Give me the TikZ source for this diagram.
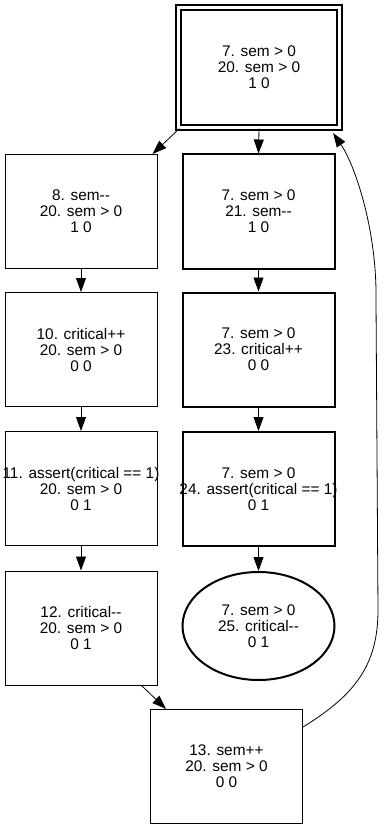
\documentclass[tikz,border=0pt]{standalone}
\usepackage{fontspec}
\setmainfont{Liberation Sans}[Ligatures=TeXOff]
\usetikzlibrary{arrows.meta, shapes.geometric}

\tikzset{
    state/.style={draw, line width=1pt, minimum width=152pt, minimum height=114pt,
        inner sep=0pt, align=center, font=\fontsize{15.4}{16}\selectfont},
    loopstate/.style={state, line width=2pt},
    initstate/.style={state, line width=2.2pt, double, double distance=2.8pt,
        minimum width=161pt, minimum height=120pt},
    endstate/.style={loopstate, ellipse, minimum height=108pt},
    trans/.style={line width=0.8pt, -{Triangle[length=14pt,width=10pt]}}
}

\begin{document}
\begin{tikzpicture}[x=1pt, y=-1pt]
    \useasboundingbox (0,0) rectangle (384,829);

    % Initial state
    \node[initstate] (s0) at (259,67.5) {7. sem > 0\\20. sem > 0\\1 0};

    % Left column: first process runs
    \node[state] (l1) at (81,211.5) {8. sem--\\20. sem > 0\\1 0};
    \node[state] (l2) at (81,349.5) {10. critical++\\20. sem > 0\\0 0};
    \node[state] (l3) at (81,488.5) {\makebox[0pt]{11. assert(critical == 1)}\\20. sem > 0\\0 1};
    \node[state] (l4) at (81,628) {12. critical--\\20. sem > 0\\0 1};
    \node[state] (l5) at (226.5,766.5) {13. sem++\\20. sem > 0\\0 0};

    % Right column: second process runs
    \node[loopstate] (r1) at (258.5,211.5) {7. sem > 0\\21. sem--\\1 0};
    \node[loopstate] (r2) at (258.5,349.5) {7. sem > 0\\23. critical++\\0 0};
    \node[loopstate] (r3) at (258.5,489) {7. sem > 0\\\makebox[0pt]{24. assert(critical == 1)}\\0 1};
    \node[endstate] (r4) at (258.5,626) {7. sem > 0\\25. critical--\\0 1};

    % Transitions
    \draw[trans] ([xshift=2pt]s0.south west) -- ([xshift=-5pt]l1.north east);
    \draw[trans] (s0.south) -- (r1.north);
    \draw[trans] (l1) -- (l2);
    \draw[trans] (l2) -- (l3);
    \draw[trans] (l3) -- (l4);
    \draw[trans] ([xshift=-16pt]l4.south east) -- ([xshift=16pt]l5.north west);
    \draw[trans] (r1) -- (r2);
    \draw[trans] (r2) -- (r3);
    \draw[trans] (r3) -- (r4);

    % Back edge to the initial state
    \draw[trans] ([yshift=-18pt]l5.north east)
        .. controls (355,695) and (378,665) .. (378,610)
        -- (376,300)
        .. controls (377,230) and (355,165) .. ([xshift=-7.5pt,yshift=-4.5pt]s0.south east);
\end{tikzpicture}
\end{document}
